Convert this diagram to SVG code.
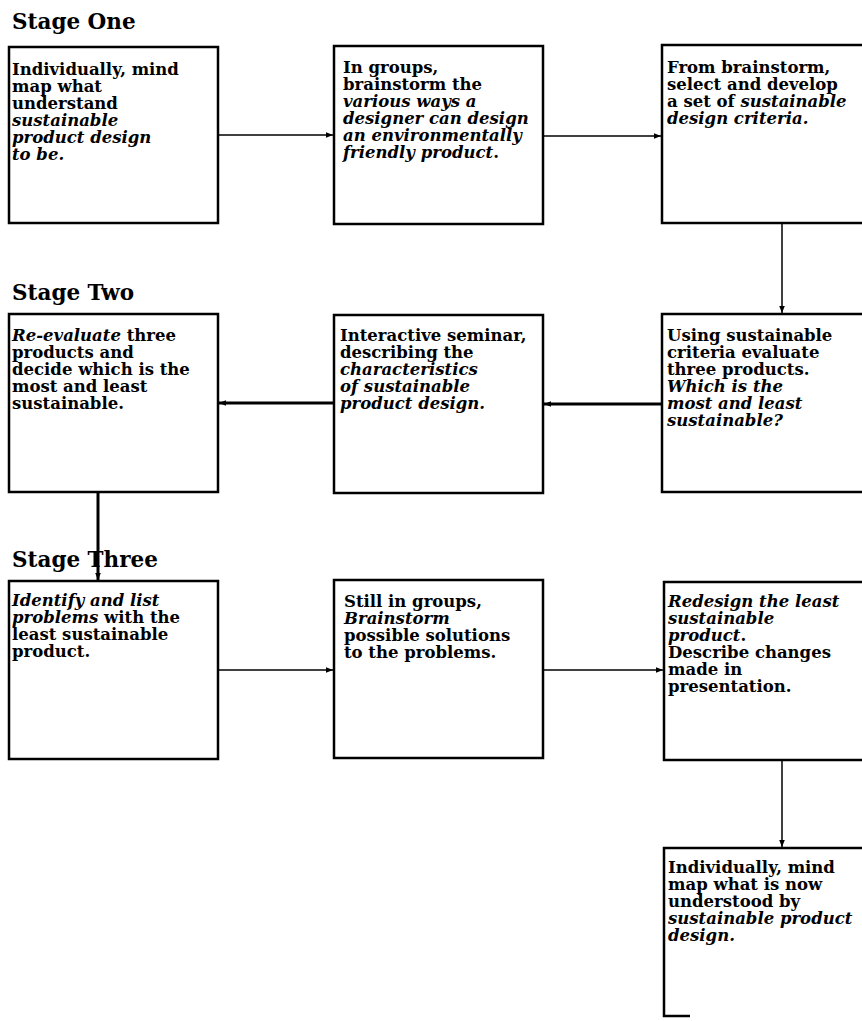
<svg xmlns="http://www.w3.org/2000/svg" width="862" height="1021" viewBox="0 0 862 1021">
<defs>
<style>
.box{fill:#fff;stroke:#000;stroke-width:2.5}
.t{font-family:"DejaVu Serif","Liberation Serif",serif;font-weight:bold;font-size:16.5px;fill:#000}
.h{font-family:"DejaVu Serif","Liberation Serif",serif;font-weight:bold;font-size:21.5px;fill:#000}
.i{font-style:italic}
.c{fill:none;stroke:#000;stroke-width:1.5}
.ct{fill:none;stroke:#000;stroke-width:3}
</style>
<marker id="a" viewBox="0 0 10 10" refX="10" refY="5" markerWidth="7" markerHeight="7" markerUnits="userSpaceOnUse" orient="auto">
<path d="M0,1 L10,5 L0,9 z" fill="#000"/>
</marker>
</defs>
<rect width="862" height="1021" fill="#fff"/>
<text class="h" x="12" y="29">Stage One</text>
<text class="h" x="12" y="300">Stage Two</text>
<text class="h" x="12" y="567">Stage Three</text>
<g id="connectors">
<line class="c" x1="218" y1="135" x2="333" y2="135" marker-end="url(#a)"/>
<line class="c" x1="543" y1="136" x2="661" y2="136" marker-end="url(#a)"/>
<line class="c" x1="782" y1="223" x2="782" y2="313" marker-end="url(#a)"/>
<line class="ct" x1="662" y1="404" x2="544" y2="404" marker-end="url(#a)"/>
<line class="ct" x1="334" y1="403" x2="219" y2="403" marker-end="url(#a)"/>
<line class="ct" x1="98" y1="492" x2="98" y2="580" marker-end="url(#a)"/>
<line class="c" x1="218" y1="670" x2="333" y2="670" marker-end="url(#a)"/>
<line class="c" x1="543" y1="670" x2="663" y2="670" marker-end="url(#a)"/>
<line class="c" x1="782" y1="760" x2="782" y2="847" marker-end="url(#a)"/>
</g>
<g id="n1">
<rect class="box" x="9" y="47" width="209" height="176"/>
<text class="t" x="12" y="75">Individually, mind</text>
<text class="t" x="12" y="92">map what</text>
<text class="t" x="12" y="109">understand</text>
<text class="t i" x="12" y="126">sustainable</text>
<text class="t i" x="12" y="143">product design</text>
<text class="t i" x="12" y="160">to be.</text>
</g>
<g id="n2">
<rect class="box" x="334" y="46" width="209" height="178"/>
<text class="t" x="343" y="73">In groups,</text>
<text class="t" x="343" y="90">brainstorm the</text>
<text class="t i" x="343" y="107">various ways a</text>
<text class="t i" x="343" y="124">designer can design</text>
<text class="t i" x="343" y="141">an environmentally</text>
<text class="t" x="343" y="158"><tspan class="i">friendly product</tspan>.</text>
</g>
<g id="n3">
<rect class="box" x="662" y="45" width="215" height="178"/>
<text class="t" x="667" y="73">From brainstorm,</text>
<text class="t" x="667" y="90">select and develop</text>
<text class="t" x="667" y="107">a set of <tspan class="i">sustainable</tspan></text>
<text class="t i" x="667" y="124">design criteria.</text>
</g>
<g id="n4">
<rect class="box" x="9" y="314" width="209" height="178"/>
<text class="t" x="12" y="341"><tspan class="i">Re-evaluate</tspan> three</text>
<text class="t" x="12" y="358">products and</text>
<text class="t" x="12" y="375">decide which is the</text>
<text class="t" x="12" y="392">most and least</text>
<text class="t" x="12" y="409">sustainable.</text>
</g>
<g id="n5">
<rect class="box" x="334" y="315" width="209" height="178"/>
<text class="t" x="340" y="341">Interactive seminar,</text>
<text class="t" x="340" y="358">describing the</text>
<text class="t i" x="340" y="375">characteristics</text>
<text class="t i" x="340" y="392">of sustainable</text>
<text class="t i" x="340" y="409">product design.</text>
</g>
<g id="n6">
<rect class="box" x="662" y="314" width="215" height="178"/>
<text class="t" x="667" y="341">Using sustainable</text>
<text class="t" x="667" y="358">criteria evaluate</text>
<text class="t" x="667" y="375">three products.</text>
<text class="t i" x="667" y="392">Which is the</text>
<text class="t i" x="667" y="409">most and least</text>
<text class="t i" x="667" y="426">sustainable?</text>
</g>
<g id="n7">
<rect class="box" x="9" y="581" width="209" height="178"/>
<text class="t i" x="12" y="606">Identify and list</text>
<text class="t" x="12" y="623"><tspan class="i">problems</tspan> with the</text>
<text class="t" x="12" y="640">least sustainable</text>
<text class="t" x="12" y="657">product.</text>
</g>
<g id="n8">
<rect class="box" x="334" y="580" width="209" height="178"/>
<text class="t" x="344" y="607">Still in groups,</text>
<text class="t i" x="344" y="624">Brainstorm</text>
<text class="t" x="344" y="641">possible solutions</text>
<text class="t" x="344" y="658">to the problems.</text>
</g>
<g id="n9">
<rect class="box" x="664" y="582" width="215" height="178"/>
<text class="t i" x="668" y="607">Redesign the least</text>
<text class="t i" x="668" y="624">sustainable</text>
<text class="t" x="668" y="641"><tspan class="i">product</tspan>.</text>
<text class="t" x="668" y="658">Describe changes</text>
<text class="t" x="668" y="675">made in</text>
<text class="t" x="668" y="692">presentation.</text>
</g>
<g id="n10">
<path d="M880,848 H664 V1016 H690" fill="none" stroke="#000" stroke-width="2.5"/>
<text class="t" x="668" y="873">Individually, mind</text>
<text class="t" x="668" y="890">map what is now</text>
<text class="t" x="668" y="907">understood by</text>
<text class="t i" x="668" y="924">sustainable product</text>
<text class="t i" x="668" y="941">design.</text>
</g>
</svg>
